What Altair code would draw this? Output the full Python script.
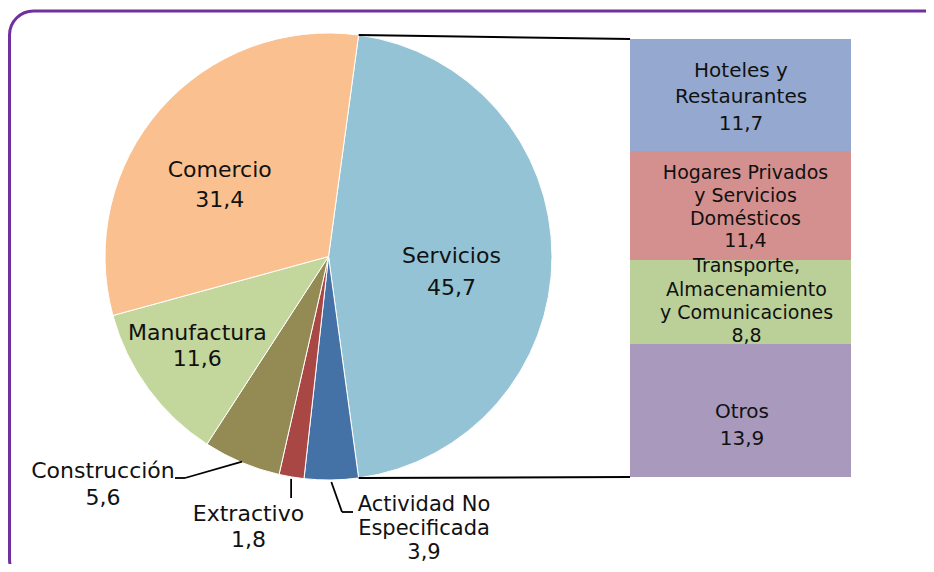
import math
import altair as alt
import pandas as pd

# ---------------- data ----------------
pie_categories = ["Servicios", "Actividad No Especificada", "Extractivo",
                  "Construcción", "Manufactura", "Comercio"]
pie_values = [45.7, 3.9, 1.8, 5.6, 11.6, 31.4]
pie_labels = ["Servicios\n45,7", "Actividad No\nEspecificada\n3,9", "Extractivo\n1,8",
              "Construcción\n5,6", "Manufactura\n11,6", "Comercio\n31,4"]
pie_colors = ["#93C3D4", "#4472A7", "#A94745", "#948A54", "#C3D69B", "#FAC090"]

bar_categories = ["Hoteles y Restaurantes", "Hogares Privados y Servicios Domésticos",
                  "Transporte, Almacenamiento y Comunicaciones", "Otros"]
bar_values = [11.7, 11.4, 8.8, 13.9]
bar_labels = ["Hoteles y\nRestaurantes\n11,7",
              "Hogares Privados\ny Servicios\nDomésticos\n11,4",
              "Transporte,\nAlmacenamiento\ny Comunicaciones\n8,8",
              "Otros\n13,9"]
bar_colors = ["#95A9D0", "#D4908F", "#BBCF98", "#A99ABD"]

# ---------------- layout ----------------
W, H = 918, 556
CX, CY, R = 320.5, 248.5, 223.5          # pie centre / radius (px)
BX0, BX1 = 622, 843                       # bar left / right (px)
BY0, BY1 = 31, 469                        # bar top / bottom (px)
FONT = "DejaVu Sans"
INK = "#111111"

pie_total = sum(pie_values)
bar_total = sum(bar_values)
# rotate so that the exploded slice (Servicios) is centred on the right
a0 = math.pi / 2 - math.pi * pie_values[0] / pie_total

pie_df = pd.DataFrame({"cat": pie_categories, "value": pie_values,
                       "label": pie_labels, "idx": list(range(len(pie_values)))})

starts, acc = [], 0.0
for v in bar_values:
    starts.append(acc)
    acc += v
bar_df = pd.DataFrame({"cat": bar_categories, "value": bar_values, "label": bar_labels,
                       "start": starts,
                       "end": [s + v for s, v in zip(starts, bar_values)]})
bar_df["mid"] = (bar_df["start"] + bar_df["end"]) / 2


def mid_angle(i):
    before = sum(pie_values[:i])
    return a0 + 2 * math.pi * (before + pie_values[i] / 2) / pie_total


def polar(angle, r):
    return CX + r * math.sin(angle), CY - r * math.cos(angle)


one = pd.DataFrame({"k": [0]})


def seg(x1, y1, x2, y2, width=1.8):
    return alt.Chart(one).mark_rule(color="#000000", strokeWidth=width).encode(
        x=alt.value(x1), y=alt.value(y1), x2=alt.value(x2), y2=alt.value(y2))


# ---------------- border ----------------
border = alt.Chart(one).mark_rect(filled=False, stroke="#7030A0", strokeWidth=3,
                                  cornerRadius=24).encode(
    x=alt.value(1.5), y=alt.value(3), x2=alt.value(945), y2=alt.value(575))

# ---------------- pie ----------------
theta = alt.Theta("value:Q", stack=True,
                  scale=alt.Scale(range=[a0, a0 + 2 * math.pi]))
pie = alt.Chart(pie_df).mark_arc(radius=R, stroke="white", strokeWidth=1).encode(
    theta=theta,
    order=alt.Order("idx:Q"),
    color=alt.Color("cat:N", scale=alt.Scale(domain=pie_categories, range=pie_colors),
                    legend=None),
    x=alt.value(CX), y=alt.value(CY),
)


def pie_inner_text(cat, radius, dx, dy, size, lh):
    return alt.Chart(pie_df).transform_calculate(
        lab=f"datum.cat == '{cat}' ? datum.label : ''"
    ).mark_text(radius=radius, dx=dx, dy=dy, fontSize=size, lineHeight=lh, font=FONT,
                color=INK, align="center", baseline="alphabetic", lineBreak="\n").encode(
        theta=alt.Theta("value:Q", stack=True),
        order=alt.Order("idx:Q"),
        text="lab:N",
        x=alt.value(CX), y=alt.value(CY),
    )


t_serv = pie_inner_text("Servicios", 123, 0, 6.5, 22, 32)
t_com = pie_inner_text("Comercio", 130, -11, 6.2, 22, 30)
t_man = pie_inner_text("Manufactura", 160, -2, -10.9, 22, 26)


def outer_text(i, x, y, lh, size=22):
    d = pie_df.iloc[[i]]
    return alt.Chart(d).mark_text(fontSize=size, lineHeight=lh, font=FONT, color=INK,
                                  align="center", baseline="alphabetic",
                                  lineBreak="\n").encode(
        text="label:N", x=alt.value(x), y=alt.value(y))


t_cons = outer_text(3, 95, 470, 27)
t_ext = outer_text(2, 240.5, 512.5, 26)
t_act = outer_text(1, 416, 503, 24, 21)

# leader lines from slice edges
cx1, cy1 = polar(mid_angle(3), R - 1)
cons_l = [seg(cx1, cy1, 177, 470), seg(177, 470, 167, 470)]
ex1, ey1 = polar(mid_angle(2), R + 2)
ext_l = [seg(ex1, ey1, ex1, 490)]
ax1, ay1 = polar(mid_angle(1), R + 2)
act_l = [seg(ax1, ay1, 334, 504), seg(334, 504, 345, 504)]

# connectors from exploded slice to bar
tx, ty = polar(a0, R)
bx, by = polar(a0 + 2 * math.pi * pie_values[0] / pie_total, R)
conn = [seg(tx, ty, BX0, BY0, 2), seg(bx, by, BX0, BY1, 2)]

# ---------------- bar ----------------
yscale = alt.Scale(domain=[0, bar_total], range=[BY0, BY1], nice=False, zero=False)
bar = alt.Chart(bar_df).mark_rect().encode(
    x=alt.value(BX0), x2=alt.value(BX1),
    y=alt.Y("start:Q", scale=yscale, axis=None),
    y2="end:Q",
    color=alt.Color("cat:N", scale=alt.Scale(domain=bar_categories, range=bar_colors),
                    legend=None),
)


def bar_text(cat, dx, dy, size, lh):
    return alt.Chart(bar_df).transform_filter(
        f"datum.cat == '{cat}'"
    ).mark_text(dx=dx, dy=dy, fontSize=size, lineHeight=lh, font=FONT, color=INK,
                align="center", baseline="alphabetic", lineBreak="\n").encode(
        x=alt.value((BX0 + BX1) / 2),
        y=alt.Y("mid:Q", scale=yscale, axis=None),
        text="label:N",
    )


bt = [bar_text(bar_categories[0], 0.5, -18, 20, 26.5),
      bar_text(bar_categories[1], 5, -26, 19, 22.7),
      bar_text(bar_categories[2], 6, -29.5, 19, 23.3),
      bar_text(bar_categories[3], 1.5, 7.5, 20, 27)]

chart = alt.layer(
    border, pie, t_serv, t_com, t_man, t_cons, t_ext, t_act,
    *cons_l, *ext_l, *act_l, *conn, bar, *bt
).resolve_scale(color="independent").properties(
    width=W, height=H, autosize=alt.AutoSizeParams(type="none"), padding=0
).configure_view(stroke=None)

chart.save("out.html", embed_options={"renderer": "svg", "actions": False})
